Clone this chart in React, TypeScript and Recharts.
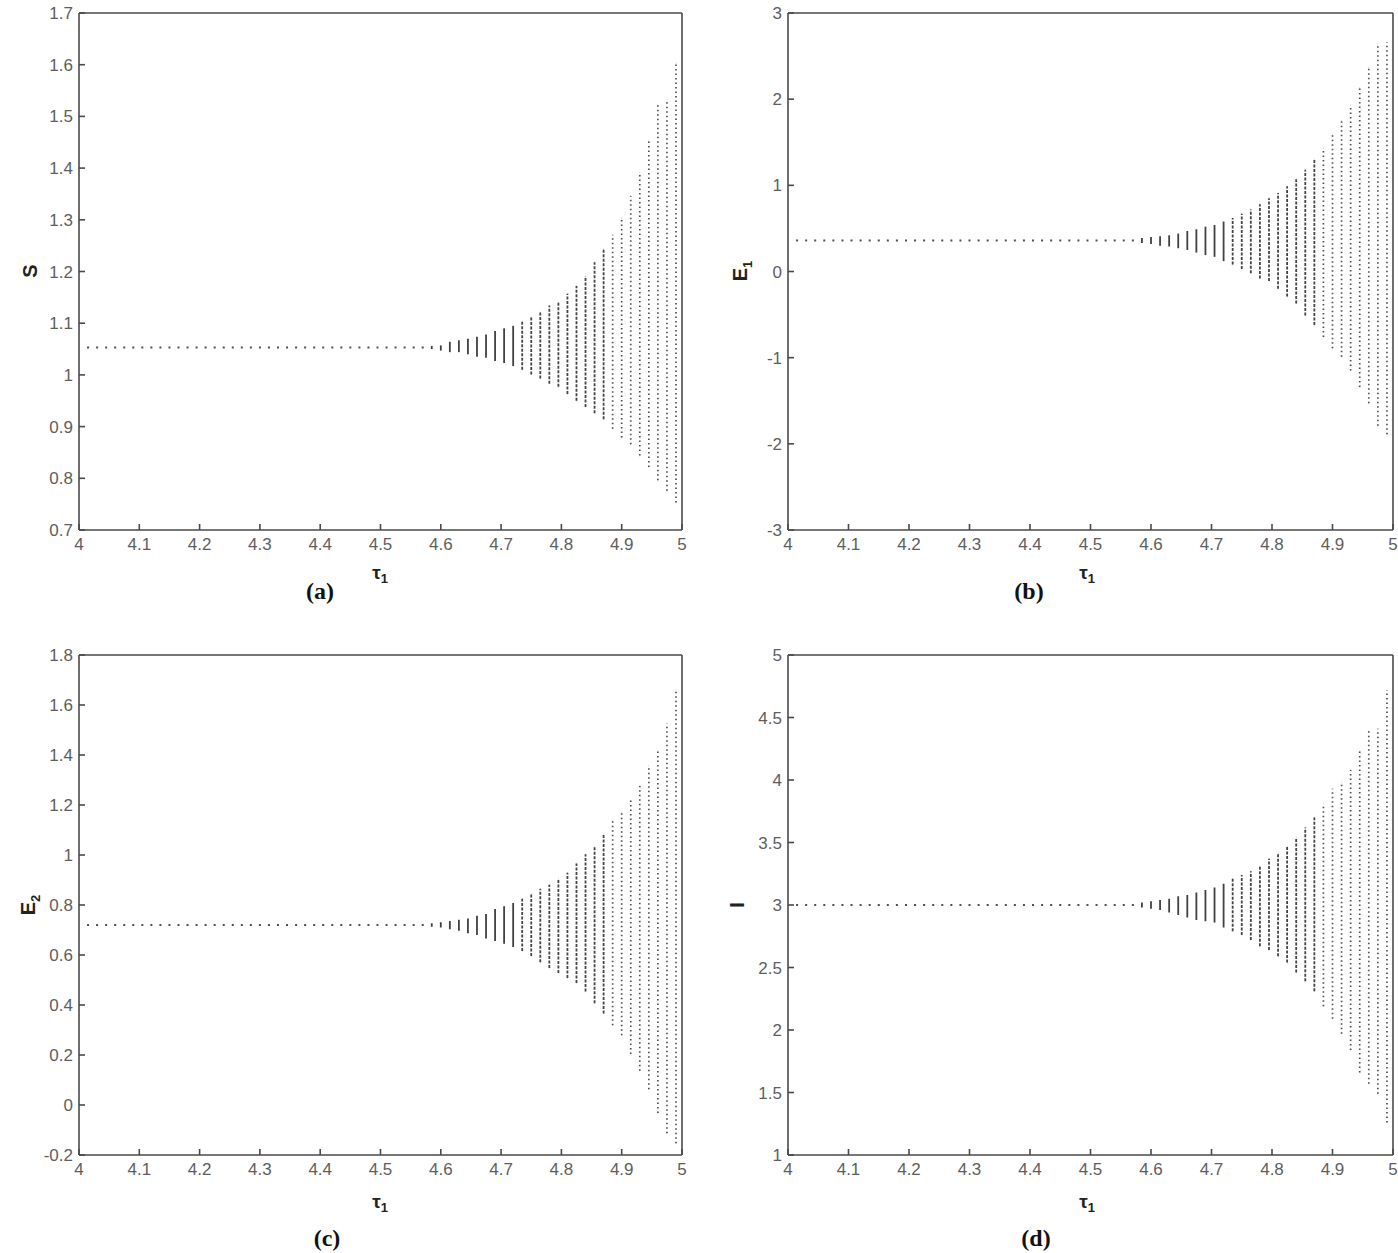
import React from 'react';
import { ScatterChart, Scatter, XAxis, YAxis, ErrorBar } from 'recharts';

// tau_1 values of the columns (stable part and oscillating part)
const TAU_STABLE = [
  4.015, 4.03, 4.045, 4.06, 4.075, 4.09, 4.105, 4.12, 4.135, 4.15, 4.165, 4.18, 4.195,
  4.21, 4.225, 4.24, 4.255, 4.27, 4.285, 4.3, 4.315, 4.33, 4.345, 4.36, 4.375, 4.39,
  4.405, 4.42, 4.435, 4.45, 4.465, 4.48, 4.495, 4.51, 4.525, 4.54, 4.555, 4.57,
];
const TAU_OSC = [
  4.585, 4.6, 4.615, 4.63, 4.645, 4.66, 4.675, 4.69, 4.705, 4.72, 4.735, 4.75, 4.765, 4.78,
  4.795, 4.81, 4.825, 4.84, 4.855, 4.87, 4.885, 4.9, 4.915, 4.93, 4.945, 4.96, 4.975, 4.99,
];

// equilibrium values (stable branch)
const S_STAR = 1.053;
const E1_STAR = 0.36;
const E2_STAR = 0.72;
const I_STAR = 3.0;

// lower / upper envelopes of the oscillating columns
const S_LO = [1.05, 1.047, 1.044, 1.044, 1.04, 1.035, 1.033, 1.027, 1.023, 1.017, 1.01, 1.001, 0.993, 0.983,
  0.977, 0.963, 0.95, 0.938, 0.926, 0.914, 0.896, 0.879, 0.866, 0.844, 0.822, 0.796, 0.776, 0.753];
const S_HI = [1.056, 1.057, 1.064, 1.067, 1.07, 1.074, 1.078, 1.085, 1.09, 1.095, 1.104, 1.112, 1.121, 1.134,
  1.141, 1.157, 1.172, 1.191, 1.218, 1.243, 1.271, 1.303, 1.346, 1.392, 1.452, 1.522, 1.532, 1.603];

const E1_LO = [0.33, 0.32, 0.3, 0.29, 0.27, 0.25, 0.22, 0.19, 0.17, 0.12, 0.08, 0.03, -0.02, -0.08,
  -0.11, -0.2, -0.29, -0.37, -0.51, -0.62, -0.76, -0.89, -0.99, -1.15, -1.34, -1.53, -1.79, -1.89];
const E1_HI = [0.39, 0.4, 0.41, 0.42, 0.44, 0.47, 0.49, 0.52, 0.54, 0.58, 0.62, 0.67, 0.72, 0.78,
  0.85, 0.91, 0.99, 1.07, 1.18, 1.3, 1.43, 1.59, 1.75, 1.93, 2.13, 2.37, 2.64, 2.66];

const E2_LO = [0.713, 0.71, 0.703, 0.697, 0.687, 0.68, 0.666, 0.656, 0.645, 0.632, 0.616, 0.596, 0.571, 0.548,
  0.528, 0.508, 0.488, 0.454, 0.407, 0.366, 0.319, 0.279, 0.204, 0.137, 0.063, -0.032, -0.113, -0.153];
const E2_HI = [0.727, 0.731, 0.736, 0.741, 0.746, 0.757, 0.764, 0.784, 0.795, 0.808, 0.825, 0.845, 0.865, 0.881,
  0.906, 0.929, 0.966, 1.003, 1.034, 1.081, 1.135, 1.171, 1.218, 1.276, 1.357, 1.418, 1.526, 1.661];

const I_LO = [2.98, 2.97, 2.96, 2.94, 2.92, 2.9, 2.88, 2.87, 2.86, 2.82, 2.79, 2.76, 2.72, 2.67,
  2.64, 2.59, 2.54, 2.46, 2.39, 2.31, 2.19, 2.09, 1.97, 1.84, 1.66, 1.57, 1.49, 1.26];
const I_HI = [3.02, 3.03, 3.04, 3.05, 3.07, 3.08, 3.1, 3.12, 3.14, 3.17, 3.21, 3.24, 3.27, 3.31,
  3.37, 3.41, 3.47, 3.54, 3.62, 3.7, 3.81, 3.93, 3.98, 4.08, 4.23, 4.39, 4.41, 4.72];

// tick labels
const X_TICKS = [4, 4.1, 4.2, 4.3, 4.4, 4.5, 4.6, 4.7, 4.8, 4.9, 5];
const S_TICKS = [0.7, 0.8, 0.9, 1, 1.1, 1.2, 1.3, 1.4, 1.5, 1.6, 1.7];
const E1_TICKS = [-3, -2, -1, 0, 1, 2, 3];
const E2_TICKS = [-0.2, 0, 0.2, 0.4, 0.6, 0.8, 1, 1.2, 1.4, 1.6, 1.8];
const I_TICKS = [1, 1.5, 2, 2.5, 3, 3.5, 4, 4.5, 5];

// style thresholds (visual only)
const SOLID_END = 4.72;
const DENSE_END = 4.87;

const AXIS_COLOR = '#4a4a4a';
const TICK_TEXT = '#5e5e5e';
const FONT = '"Liberation Sans", Arial, sans-serif';

type Pt = { x: number; y: number; err?: number[] };

function buildStable(v: number): Pt[] {
  return TAU_STABLE.map((t) => ({ x: t, y: v }));
}
function buildOsc(lo: number[], hi: number[], from: number, to: number): Pt[] {
  const out: Pt[] = [];
  TAU_OSC.forEach((t, i) => {
    if (t > from && t <= to) {
      const mid = (lo[i] + hi[i]) / 2;
      const half = (hi[i] - lo[i]) / 2;
      out.push({ x: t, y: mid, err: [half, half] });
    }
  });
  return out;
}

const DotShape = (p: any) => <rect x={p.cx - 1} y={p.cy - 1} width={2} height={2} fill="#505050" />;
const NoShape = () => <g />;

type Rect = { l: number; t: number; r: number; b: number };

function Panel(props: {
  left: number; top: number; width: number; height: number; plot: Rect;
  domain: [number, number]; ticks: number[]; star: number; lo: number[]; hi: number[];
}) {
  const { left, top, width, height, plot, domain, ticks, star, lo, hi } = props;
  const margin = {
    top: plot.t - top - 1,
    left: plot.l - left - 60,
    right: left + width - plot.r - 1,
    bottom: top + height - plot.b - 30,
  };
  const tickStyle = { fill: TICK_TEXT, fontSize: 17, fontFamily: FONT };
  const lineStyle = { stroke: AXIS_COLOR, strokeWidth: 1.6 };
  const solid = buildOsc(lo, hi, 0, SOLID_END);
  const dense = buildOsc(lo, hi, SOLID_END, DENSE_END);
  const sparse = buildOsc(lo, hi, DENSE_END, 10);
  return (
    <div style={{ position: 'absolute', left, top, width, height }}>
      <ScatterChart width={width} height={height} margin={margin}>
        <XAxis xAxisId="b" type="number" dataKey="x" domain={[4, 5]} ticks={X_TICKS} interval={0}
          orientation="bottom" height={30} tickSize={-6} tickMargin={14} tick={tickStyle}
          axisLine={lineStyle} tickLine={lineStyle} tickFormatter={(v: number) => String(v)} allowDataOverflow />
        <XAxis xAxisId="t" type="number" dataKey="x" domain={[4, 5]} ticks={X_TICKS} interval={0}
          orientation="top" height={1} tickSize={-6} tick={false} axisLine={lineStyle} tickLine={lineStyle} allowDataOverflow />
        <YAxis yAxisId="l" type="number" dataKey="y" domain={domain} ticks={ticks} interval={0}
          width={60} tickSize={-6} tickMargin={12} tick={tickStyle}
          axisLine={lineStyle} tickLine={lineStyle} tickFormatter={(v: number) => String(v)} allowDataOverflow />
        <YAxis yAxisId="r" type="number" dataKey="y" orientation="right" domain={domain} ticks={ticks} interval={0}
          width={1} tickSize={-6} tick={false} axisLine={lineStyle} tickLine={lineStyle} allowDataOverflow />
        <Scatter xAxisId="b" yAxisId="l" data={buildStable(star)} dataKey="y" shape={DotShape} isAnimationActive={false} />
        <Scatter xAxisId="b" yAxisId="l" data={solid} dataKey="y" shape={NoShape} isAnimationActive={false}>
          <ErrorBar dataKey="err" direction="y" width={0} stroke="#404040" strokeWidth={1.8} isAnimationActive={false} />
        </Scatter>
        <Scatter xAxisId="b" yAxisId="l" data={dense} dataKey="y" shape={NoShape} isAnimationActive={false}>
          <ErrorBar dataKey="err" direction="y" width={0} stroke="#454545" strokeWidth={1.8} strokeDasharray="3 1.5" isAnimationActive={false} />
        </Scatter>
        <Scatter xAxisId="b" yAxisId="l" data={sparse} dataKey="y" shape={NoShape} isAnimationActive={false}>
          <ErrorBar dataKey="err" direction="y" width={0} stroke="#505050" strokeWidth={1.7} strokeDasharray="1.5 3" isAnimationActive={false} />
        </Scatter>
      </ScatterChart>
    </div>
  );
}

const labelBase: React.CSSProperties = {
  position: 'absolute', whiteSpace: 'nowrap', lineHeight: 1, color: '#222',
};

function YLabel({ x, y, main, sub }: { x: number; y: number; main: string; sub?: string }) {
  return (
    <div style={{ ...labelBase, left: x, top: y, transform: 'translate(-50%, -50%) rotate(-90deg)',
      fontFamily: FONT, fontWeight: 'bold', fontSize: 20 }}>
      {main}{sub ? <sub style={{ fontSize: 13 }}>{sub}</sub> : null}
    </div>
  );
}
function TauLabel({ x, y }: { x: number; y: number }) {
  return (
    <div style={{ ...labelBase, left: x, top: y, transform: 'translate(-50%, -50%)',
      fontFamily: FONT, fontWeight: 'bold', fontSize: 19 }}>
      τ<sub style={{ fontSize: 13 }}>1</sub>
    </div>
  );
}
function PanelTag({ x, y, text }: { x: number; y: number; text: string }) {
  return (
    <div style={{ ...labelBase, left: x, top: y, transform: 'translate(-50%, -50%)',
      fontFamily: '"Liberation Serif", "Times New Roman", serif', fontWeight: 'bold', fontSize: 24, color: '#111' }}>
      {text}
    </div>
  );
}

export default function App() {
  return (
    <div style={{ position: 'absolute', left: 0, top: 0, width: 1398, height: 1253, background: '#fff', overflow: 'hidden' }}>
      <Panel left={0} top={0} width={700} height={560} plot={{ l: 79, t: 13, r: 682, b: 530 }}
        domain={[0.7, 1.7]} ticks={S_TICKS} star={S_STAR} lo={S_LO} hi={S_HI} />
      <Panel left={700} top={0} width={698} height={560} plot={{ l: 788, t: 13, r: 1393, b: 530 }}
        domain={[-3, 3]} ticks={E1_TICKS} star={E1_STAR} lo={E1_LO} hi={E1_HI} />
      <Panel left={0} top={640} width={700} height={560} plot={{ l: 79, t: 655, r: 682, b: 1155 }}
        domain={[-0.2, 1.8]} ticks={E2_TICKS} star={E2_STAR} lo={E2_LO} hi={E2_HI} />
      <Panel left={700} top={640} width={698} height={560} plot={{ l: 788, t: 655, r: 1393, b: 1155 }}
        domain={[1, 5]} ticks={I_TICKS} star={I_STAR} lo={I_LO} hi={I_HI} />

      <YLabel x={30} y={271} main="S" />
      <YLabel x={742} y={271} main="E" sub="1" />
      <YLabel x={30} y={905} main="E" sub="2" />
      <YLabel x={737} y={905} main="I" />

      <TauLabel x={380} y={574} />
      <TauLabel x={1087} y={574} />
      <TauLabel x={380} y={1203} />
      <TauLabel x={1087} y={1203} />

      <PanelTag x={320} y={591} text="(a)" />
      <PanelTag x={1029} y={591} text="(b)" />
      <PanelTag x={327} y={1238} text="(c)" />
      <PanelTag x={1036} y={1238} text="(d)" />
    </div>
  );
}
